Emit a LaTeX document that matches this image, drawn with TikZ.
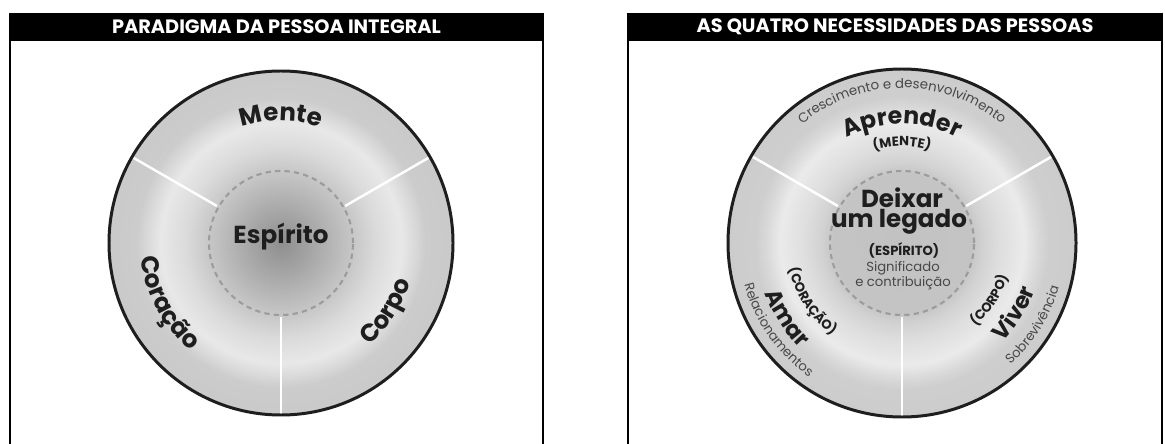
\documentclass[tikz,border=0pt]{standalone}
\usepackage{fontspec}
\setmainfont{Poppins}
\usepackage{xcolor}
\usetikzlibrary{positioning,decorations.text}
\definecolor{inkdark}{HTML}{1E1E1E}
\definecolor{inksoft}{HTML}{484848}
\definecolor{dashgray}{HTML}{9C9C9C}

\pgfdeclareradialshading{corefade}{\pgfpoint{0bp}{0bp}}{%
  color(0bp)=(black!44); color(4bp)=(black!36); color(10.5bp)=(black!22);
  color(14bp)=(black!14); color(17.5bp)=(black!9); color(19.5bp)=(black!15);
  color(21bp)=(black!20); color(25bp)=(black!21); color(50bp)=(black!21)}
\pgfdeclareradialshading{legfade}{\pgfpoint{0bp}{0bp}}{%
  color(0bp)=(black!24); color(10bp)=(black!23); color(11.5bp)=(black!18);
  color(14bp)=(black!13); color(17.5bp)=(black!8); color(19.5bp)=(black!15);
  color(21bp)=(black!19); color(25bp)=(black!20); color(50bp)=(black!20)}

\begin{document}
\begin{tikzpicture}[x=0.02cm, y=0.02cm,
  phead/.style={rectangle, fill=black, text=white, minimum height=0.56cm,
    inner sep=0pt, font=\bfseries\fontsize{11}{12}\selectfont},
  panelline/.style={line width=1.1pt, black},
  outerdisc/.style={draw=inkdark, line width=1.7pt},
  coreline/.style={draw=dashgray, line width=1.2pt, dash pattern=on 3pt off 2.4pt},
  spokeline/.style={white, line width=1.4pt},
  bigword/.style={font=\bfseries\fontsize{14}{15}\selectfont, text=inkdark, inner sep=0pt},
  capsword/.style={font=\bfseries\fontsize{7.5}{8}\selectfont, text=inkdark, inner sep=0pt},
  noteword/.style={font=\fontsize{7.5}{8}\selectfont, text=inksoft, inner sep=0pt}
]
\useasboundingbox (0,0) rectangle (1165,443);
\fill[white] (0,0) rectangle (1165,443);

%─── LEFT PANEL ──────────────────────────────────────────────────────────────
\node[phead, minimum width=10.66cm] (LH) at (276.5,416) {PARADIGMA DA PESSOA INTEGRAL};
\draw[panelline] (LH.north west) -- ++(0,-440);
\draw[panelline] (LH.north east) -- ++(0,-440);

\coordinate (LC) at (281,200);
\shade[shading=corefade] (LC) circle[radius=172];
\draw[coreline] (LC) circle[radius=72];
\draw[spokeline] ([shift={(150:74)}]LC) -- ([shift={(150:172)}]LC);
\draw[spokeline] ([shift={(30:74)}]LC) -- ([shift={(30:172)}]LC);
\draw[spokeline] ([shift={(270:74)}]LC) -- ([shift={(270:172)}]LC);
\draw[outerdisc] (LC) circle[radius=172];

\node[bigword] (ESP) at (281,206) {Espírito};

% words along the rim
\path[decorate, decoration={text along path, text align=center,
  text={|\bfseries\fontsize{14}{15}\selectfont\color{inkdark}|Mente}}]
  ([shift={(150:122)}]LC) arc[start angle=150, end angle=30, radius=122];
\path[decorate, decoration={text along path, text align=center,
  text={|\bfseries\fontsize{14}{15}\selectfont\color{inkdark}|Coração}}]
  ([shift={(173:141)}]LC) arc[start angle=173, end angle=243, radius=141];
\path[decorate, decoration={text along path, text align=center,
  text={|\bfseries\fontsize{14}{15}\selectfont\color{inkdark}|Corpo}}]
  ([shift={(292:135)}]LC) arc[start angle=292, end angle=362, radius=135];

%─── RIGHT PANEL ─────────────────────────────────────────────────────────────
\node[phead, minimum width=10.68cm] (RH) at (895,416) {AS QUATRO NECESSIDADES DAS PESSOAS};
\draw[panelline] (RH.north west) -- ++(0,-440);
\draw[panelline] (RH.north east) -- ++(0,-440);

\coordinate (RC) at (902,200);
\shade[shading=legfade] (RC) circle[radius=174];
\draw[coreline] (RC) circle[radius=72];
\draw[spokeline] ([shift={(150:74)}]RC) -- ([shift={(150:174)}]RC);
\draw[spokeline] ([shift={(30:74)}]RC) -- ([shift={(30:174)}]RC);
\draw[spokeline] ([shift={(270:74)}]RC) -- ([shift={(270:174)}]RC);
\draw[outerdisc] (RC) circle[radius=174];

\node[bigword] (DX)   at (902,245) {Deixar};
\node[bigword] (LG)   at (899,221) {um legado};
\node[capsword] (ESR) at (904,193) {(ESPÍRITO)};
\node[noteword] (SIG) at (903,175) {Significado};
\node[noteword] (CTB) at (903,160) {e contribuição};

% top: mente
\path[decorate, decoration={text along path, text align=center,
  text={|\fontsize{7.6}{8}\selectfont\color{inksoft}|Crescimento e desenvolvimento}}]
  ([shift={(170:155)}]RC) arc[start angle=170, end angle=10, radius=155];
\path[decorate, decoration={text along path, text align=center,
  text={|\bfseries\fontsize{13.5}{15}\selectfont\color{inkdark}|Aprender}}]
  ([shift={(150:119)}]RC) arc[start angle=150, end angle=30, radius=119];
\path[decorate, decoration={text along path, text align=center,
  text={|\bfseries\fontsize{7.5}{8}\selectfont\color{inkdark}|(MENTE)}}]
  ([shift={(140:97)}]RC) arc[start angle=140, end angle=40, radius=97];

% left: coração
\path[decorate, decoration={text along path, text align=center,
  text={|\bfseries\fontsize{7.5}{8}\selectfont\color{inkdark}|(CORAÇÃO)}}]
  ([shift={(178:116)}]RC) arc[start angle=178, end angle=248, radius=116];
\path[decorate, decoration={text along path, text align=center,
  text={|\bfseries\fontsize{13}{15}\selectfont\color{inkdark}|Amar}}]
  ([shift={(178:146)}]RC) arc[start angle=178, end angle=248, radius=146];
\path[decorate, decoration={text along path, text align=center,
  text={|\fontsize{7.5}{8}\selectfont\color{inksoft}|Relacionamentos}}]
  ([shift={(180:163)}]RC) arc[start angle=180, end angle=250, radius=163];

% right: corpo
\path[decorate, decoration={text along path, text align=center,
  text={|\bfseries\fontsize{7.5}{8}\selectfont\color{inkdark}|(CORPO)}}]
  ([shift={(292:111)}]RC) arc[start angle=292, end angle=362, radius=111];
\path[decorate, decoration={text along path, text align=center,
  text={|\bfseries\fontsize{13}{15}\selectfont\color{inkdark}|Viver}}]
  ([shift={(293:141)}]RC) arc[start angle=293, end angle=363, radius=141];
\path[decorate, decoration={text along path, text align=center,
  text={|\fontsize{7.5}{8}\selectfont\color{inksoft}|Sobrevivência}}]
  ([shift={(293:163)}]RC) arc[start angle=293, end angle=363, radius=163];

\end{tikzpicture}
\end{document}
